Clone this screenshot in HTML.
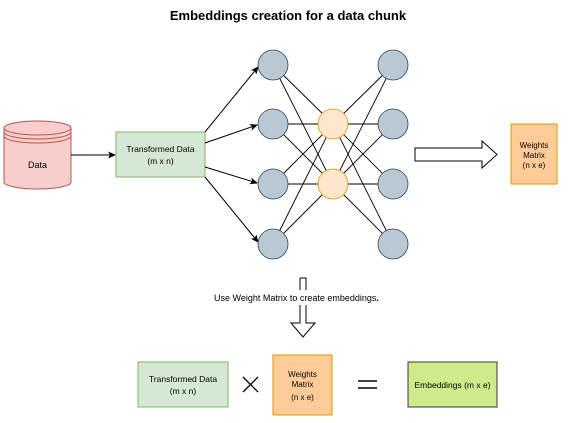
<!DOCTYPE html>
<html><head><style>
body{margin:0;background:#fff;}
svg{display:block;font-family:"Liberation Sans",sans-serif;}
</style></head><body>
<svg width="577" height="423" viewBox="0 0 577 423" xmlns="http://www.w3.org/2000/svg">
<defs><marker id="a" markerWidth="8" markerHeight="8" refX="7" refY="4" orient="auto" markerUnits="userSpaceOnUse"><path d="M0,0.5 L8,4 L0,7.5 L2,4 Z" fill="#000"/></marker></defs>
<text x="288" y="20" text-anchor="middle" font-size="13" font-weight="bold">Embeddings creation for a data chunk</text>
<!-- cylinder -->
<g stroke="#b85450" fill="#f8cecc" stroke-width="1">
<path d="M4,128 L4,182 A33.5,7 0 0 0 71,182 L71,128"/>
<ellipse cx="37.5" cy="128" rx="33.5" ry="7"/>
<path d="M4,132 A33.5,7 0 0 0 71,132 M4,136 A33.5,7 0 0 0 71,136" fill="none"/>
</g>
<text x="37.5" y="168" text-anchor="middle" font-size="9">Data</text>
<line x1="71" y1="155" x2="115" y2="155" stroke="#000" marker-end="url(#a)"/>
<rect x="116" y="132" width="89" height="45" fill="#d5e8d4" stroke="#82b366"/>
<text x="160.5" y="152" text-anchor="middle" font-size="8.5">Transformed Data</text>
<text x="160.5" y="164" text-anchor="middle" font-size="8.5">(m x n)</text>
<g stroke="#000" fill="none">
<line x1="205" y1="132" x2="258" y2="67" marker-end="url(#a)"/>
<line x1="205" y1="143" x2="257" y2="125" marker-end="url(#a)"/>
<line x1="205" y1="167" x2="257" y2="183" marker-end="url(#a)"/>
<line x1="205" y1="177" x2="258" y2="242" marker-end="url(#a)"/>
<g stroke-width="0.9">
<line x1="273" y1="65" x2="333" y2="124"/><line x1="273" y1="65" x2="333" y2="184"/>
<line x1="273" y1="124" x2="333" y2="124"/><line x1="273" y1="124" x2="333" y2="184"/>
<line x1="273" y1="184" x2="333" y2="124"/><line x1="273" y1="184" x2="333" y2="184"/>
<line x1="273" y1="244" x2="333" y2="124"/><line x1="273" y1="244" x2="333" y2="184"/>
<line x1="393" y1="65" x2="333" y2="124"/><line x1="393" y1="65" x2="333" y2="184"/>
<line x1="393" y1="124" x2="333" y2="124"/><line x1="393" y1="124" x2="333" y2="184"/>
<line x1="393" y1="184" x2="333" y2="124"/><line x1="393" y1="184" x2="333" y2="184"/>
<line x1="393" y1="244" x2="333" y2="124"/><line x1="393" y1="244" x2="333" y2="184"/>
</g></g>
<g fill="#bac8d3" stroke="#23445d" stroke-width="0.8">
<circle cx="273" cy="65" r="15"/><circle cx="273" cy="124" r="15"/><circle cx="273" cy="184" r="15"/><circle cx="273" cy="244" r="15"/>
<circle cx="393" cy="65" r="15"/><circle cx="393" cy="124" r="15"/><circle cx="393" cy="184" r="15"/><circle cx="393" cy="244" r="15"/>
</g>
<g fill="#ffe6cc" stroke="#d79b00" stroke-width="0.8">
<circle cx="333" cy="124" r="15"/><circle cx="333" cy="184" r="15"/>
</g>
<path d="M415,148 L482,148 L482,141 L497,154.5 L482,168 L482,161 L415,161 Z" fill="#fff" stroke="#000"/>
<rect x="511" y="124" width="46" height="60" fill="#ffcc99" stroke="#d79b00"/>
<text x="534" y="148" text-anchor="middle" font-size="8">Weights</text>
<text x="534" y="158" text-anchor="middle" font-size="8">Matrix</text>
<text x="534" y="168" text-anchor="middle" font-size="8">(n x e)</text>
<path d="M300,278 L306,278 L306,290 M300,290 L300,278 M300,305 L300,323 L291,323 L303,337 L315,323 L306,323 L306,305" fill="#fff" stroke="#000"/>
<text x="214" y="301" font-size="9">Use Weight Matrix to create embeddings<tspan font-weight="bold">.</tspan></text>
<rect x="138" y="362" width="90" height="45" fill="#d5e8d4" stroke="#82b366"/>
<text x="183" y="382" text-anchor="middle" font-size="8.5">Transformed Data</text>
<text x="183" y="394" text-anchor="middle" font-size="8.5">(m x n)</text>
<path d="M243,377 L258,392 M258,377 L243,392" stroke="#000" stroke-width="1.3"/>
<rect x="273" y="355" width="59" height="60" fill="#ffcc99" stroke="#d79b00"/>
<text x="302.5" y="377" text-anchor="middle" font-size="8">Weights</text>
<text x="302.5" y="387" text-anchor="middle" font-size="8">Matrix</text>
<text x="302.5" y="400" text-anchor="middle" font-size="8">(n x e)</text>
<path d="M358,381 L377,381 M358,388 L377,388" stroke="#000" stroke-width="1.5"/>
<rect x="408" y="362" width="89" height="45" fill="#cdeb8b" stroke="#36393d"/>
<text x="452.5" y="388" text-anchor="middle" font-size="8.5">Embeddings (m x e)</text>
</svg>
</body></html>
